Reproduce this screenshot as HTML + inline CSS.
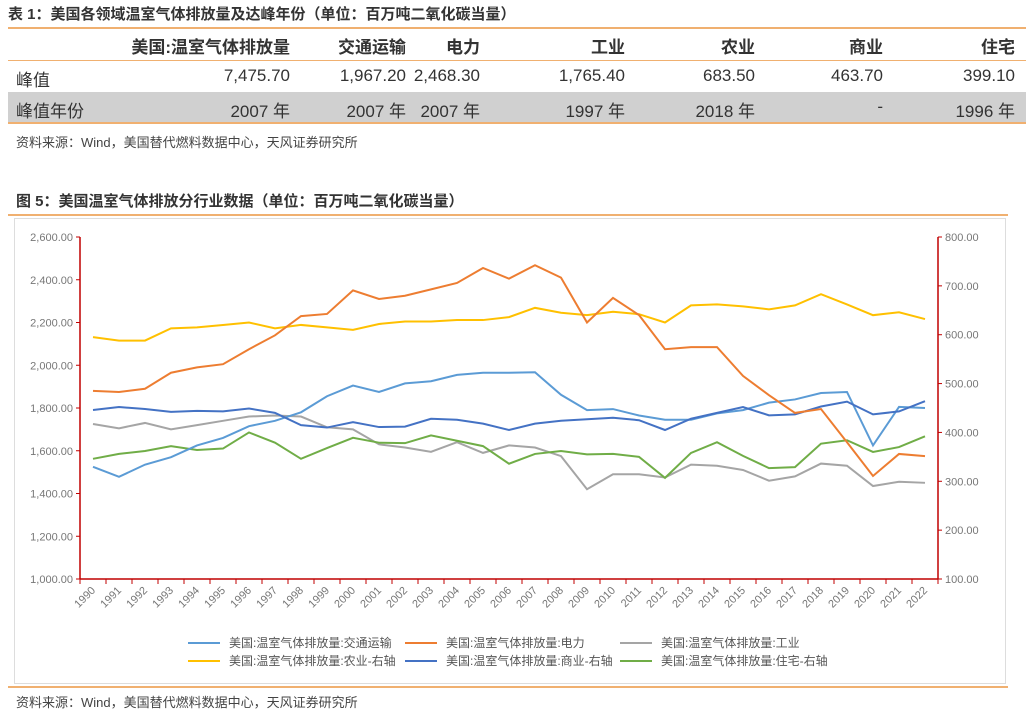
<!DOCTYPE html>
<html><head><meta charset="utf-8"><style>
body{margin:0;width:1032px;height:717px;background:#fff;font-family:"Liberation Sans","Noto Sans CJK SC",sans-serif;position:relative;overflow:hidden;color:#333}
.t{position:absolute;white-space:nowrap}
.cell{position:absolute;text-align:right;white-space:nowrap;font-size:17px}
.hl{position:absolute;height:2px;background:#f0b070}
</style></head><body>
<div class="t" style="left:8px;top:3px;font-size:15px;font-weight:bold">表 1：美国各领域温室气体排放量及达峰年份（单位：百万吨二氧化碳当量）</div>
<div class="hl" style="left:8px;top:27px;width:1018px"></div>
<div class="hl" style="left:8px;top:60px;width:1018px;height:1px"></div>
<div style="position:absolute;left:8px;top:92px;width:1018px;height:30px;background:#d0d0d0"></div>
<div class="hl" style="left:8px;top:122px;width:1018px"></div>
<div id="tbl"></div>
<div class="t" style="left:16px;top:132px;font-size:13px;color:#444">资料来源：Wind，美国替代燃料数据中心，天风证券研究所</div>
<div class="t" style="left:16px;top:190px;font-size:15px;font-weight:bold">图 5：美国温室气体排放分行业数据（单位：百万吨二氧化碳当量）</div>
<div class="hl" style="left:8px;top:214px;width:1000px"></div>
<div style="position:absolute;left:14px;top:218px;width:990px;height:464px;border:1px solid #ddd"></div>
<div class="hl" style="left:8px;top:686px;width:1000px"></div>
<div class="t" style="left:16px;top:692px;font-size:13px;color:#444">资料来源：Wind，美国替代燃料数据中心，天风证券研究所</div>
<svg id="ch" width="1032" height="717" style="position:absolute;left:0;top:0"></svg>
<script>
const years=[];for(let y=1990;y<=2022;y++)years.push(String(y));
const transport=[1525,1478,1535,1570,1625,1660,1715,1740,1780,1855,1905,1875,1915,1925,1955,1965,1965,1967,1862,1790,1795,1765,1745,1745,1775,1790,1825,1840,1870,1875,1625,1805,1800];
const power=[1880,1875,1890,1965,1990,2005,2075,2140,2230,2240,2350,2310,2325,2355,2385,2455,2405,2468,2410,2200,2315,2235,2075,2085,2085,1950,1860,1777,1795,1640,1482,1585,1575];
const industry=[1725,1705,1730,1700,1720,1740,1760,1765,1760,1710,1700,1630,1615,1595,1640,1590,1625,1615,1575,1420,1490,1490,1475,1535,1530,1510,1460,1480,1540,1530,1435,1455,1450];
const agri=[595,588,588,613,615,620,625,613,620,615,610,622,627,627,630,630,636,655,645,640,647,642,625,660,662,658,652,660,683,662,640,646,632];
const commercial=[446,452,448,442,444,443,449,440,415,410,421,411,412,428,426,418,405,418,424,427,430,425,405,428,440,452,435,437,453,463,437,443,464];
const residential=[346,356,362,372,364,367,400,379,346,368,389,379,378,394,383,372,336,356,362,355,356,350,307,358,380,352,327,329,377,384,360,370,392];
const leftTicks=[1000,1200,1400,1600,1800,2000,2200,2400,2600];
const rightTicks=[100,200,300,400,500,600,700,800];
const seriesNames=["美国:温室气体排放量:交通运输","美国:温室气体排放量:电力","美国:温室气体排放量:工业","美国:温室气体排放量:农业-右轴","美国:温室气体排放量:商业-右轴","美国:温室气体排放量:住宅-右轴"];
const colors=["#5b9bd5","#ed7d31","#a5a5a5","#ffc000","#4472c4","#70ad47"];

// table
const tbl=document.getElementById('tbl');
const rights=[290,406,480,625,755,883,1015];
const hdr=["美国:温室气体排放量","交通运输","电力","工业","农业","商业","住宅"];
const peak=["7,475.70","1,967.20","2,468.30","1,765.40","683.50","463.70","399.10"];
const peakYr=["2007 年","2007 年","2007 年","1997 年","2018 年","-","1996 年"];
function cell(txt,r,top,bold,name){const d=document.createElement('div');d.className='cell';d.textContent=txt;d.style.right=(1032-r)+'px';d.style.top=top+'px';if(bold)d.style.fontWeight='bold';


tbl.appendChild(d);}
hdr.forEach((h,i)=>cell(h,rights[i],33,true,'table-header'));
peak.forEach((h,i)=>cell(h,rights[i],66,false,'peak-value'));
peakYr.forEach((h,i)=>cell(h,rights[i],97,false,'peak-year'));
const l1=document.createElement('div');l1.className='t';l1.textContent='峰值';l1.style.cssText='left:16px;top:66px;font-size:17px';


tbl.appendChild(l1);
const l2=document.createElement('div');l2.className='t';l2.textContent='峰值年份';l2.style.cssText='left:16px;top:97px;font-size:17px';


tbl.appendChild(l2);

// chart
const svg=document.getElementById('ch');const NS='http://www.w3.org/2000/svg';
const X0=80,X1=938,Y0=579,Y1=237;
const step=(X1-X0)/years.length;
const x=i=>X0+step*(i+0.5);
const yL=v=>Y0-(v-1000)/(2600-1000)*(Y0-Y1);
const yR=v=>Y0-(v-100)/(800-100)*(Y0-Y1);
function el(t,a){const e=document.createElementNS(NS,t);for(const k in a)e.setAttribute(k,a[k]);svg.appendChild(e);return e;}
let e;
e=el('line',{x1:X0,y1:Y1,x2:X0,y2:Y0,stroke:'#c00000','stroke-width':1.5});


e=el('line',{x1:X1,y1:Y1,x2:X1,y2:Y0,stroke:'#c00000','stroke-width':1.5});


e=el('line',{x1:X0,y1:Y0,x2:X1,y2:Y0,stroke:'#c00000','stroke-width':1.5});


leftTicks.forEach(v=>{el('line',{x1:X0-4,x2:X0,y1:yL(v),y2:yL(v),stroke:'#c00000'});
const t=el('text',{x:X0-7,y:yL(v)+4,'text-anchor':'end','font-size':11,fill:'#777'});t.textContent=v.toLocaleString('en-US',{minimumFractionDigits:2});

});
rightTicks.forEach(v=>{el('line',{x1:X1,x2:X1+4,y1:yR(v),y2:yR(v),stroke:'#c00000'});
const t=el('text',{x:X1+7,y:yR(v)+4,'font-size':11,fill:'#777'});t.textContent=v.toFixed(2);

});
for(let i=0;i<=years.length;i++)el('line',{x1:X0+step*i,x2:X0+step*i,y1:Y0,y2:Y0+5,stroke:'#c00000'});
years.forEach((yr,i)=>{const t=el('text',{x:x(i)+3,y:Y0+12,'text-anchor':'end','font-size':11,fill:'#777',transform:`rotate(-45 ${x(i)+3} ${Y0+12})`});t.textContent=yr;

});
const data=[[transport,yL],[power,yL],[industry,yL],[agri,yR],[commercial,yR],[residential,yR]];
const order=[2,5,0,4,3,1];
order.forEach(k=>{const [arr,f]=data[k];const p=el('polyline',{points:arr.map((v,i)=>x(i)+','+f(v)).join(' '),fill:'none',stroke:colors[k],'stroke-width':2});

});
const lx=[188,405,620];const ly=[643,661];
seriesNames.forEach((n,k)=>{const cx=lx[k%3],cy=ly[Math.floor(k/3)];
el('line',{x1:cx,x2:cx+32,y1:cy,y2:cy,stroke:colors[k],'stroke-width':2});
const t=el('text',{x:cx+41,y:cy+4,'font-size':12,fill:'#555'});t.textContent=n;

});
</script>
</body></html>
